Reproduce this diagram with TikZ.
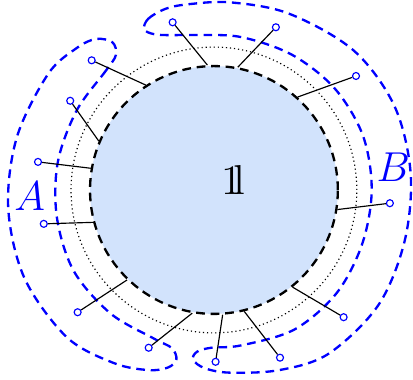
\documentclass[tikz,border=0pt]{standalone}
\usepackage{amsmath}
\usepackage{amssymb}
\usepackage{tikz}
\usetikzlibrary{positioning}

\definecolor{corefill}{RGB}{210,227,252}
\newcommand{\unitone}{\mathrm{1\kern-0.2em l}}
\tikzset{
  port/.style={circle, draw=blue, fill=white, inner sep=0pt, minimum size=2.4pt},
  region/.style={blue, thick, densely dashed},
  leg/.style={black}
}

\begin{document}
\begin{tikzpicture}
      \useasboundingbox (-2.59,-2.29) rectangle (2.41,2.30);
      % the two regions
      \draw[region] plot[smooth cycle, tension=0.55] coordinates {
        (126:2.02) (132:1.95) (150:1.92) (170:1.92) (190:1.93) (210:1.96)
        (230:1.95) (248:1.94) (255:1.98) (257.5:2.1) (255.5:2.22) (250:2.32)
        (240:2.42) (225:2.52) (205:2.53) (185:2.5) (165:2.47) (145:2.45)
        (134:2.39) (128:2.32) (124.5:2.17)};
      \draw[region] plot[smooth cycle, tension=0.55] coordinates {
        (113.5:2.12) (111:2.22) (105:2.27) (98:2.27) (85:2.28) (67:2.32)
        (45:2.39) (25:2.41) (5:2.39) (-15:2.39) (-35:2.43) (-55:2.42)
        (-70:2.32) (-85:2.22) (-93:2.16) (-97:2.07) (-96:1.97) (-91:1.91)
        (-80:1.91) (-60:1.95) (-40:1.94) (-20:1.91) (0:1.91) (20:1.92)
        (40:1.91) (60:1.89) (80:1.88) (97:1.89) (106:1.95) (111:2.02)};
      \node[blue, font=\Large] (lblA) at (-2.23,-0.08) {$A$};
      \node[blue, font=\Large] (lblB) at (2.17,0.27) {$B$};
      \draw[densely dotted] (0,0) circle (1.73);
      \node[circle, draw, thick, densely dashed, fill=corefill,
            minimum size=3cm, inner sep=0pt] (core) at (0,0) {};
      \node[font=\Large] (unit) at (0.23,0.12) {$\unitone$};
      % ports
      \node[port] (p1) at (-0.50,2.03) {};
      \node[port] (p2) at (0.75,1.97) {};
      \node[port] (p3) at (1.72,1.38) {};
      \node[port] (p4) at (2.13,-0.16) {};
      \node[port] (p5) at (1.57,-1.54) {};
      \node[port] (p6) at (0.80,-2.03) {};
      \node[port] (p7) at (0.02,-2.08) {};
      \node[port] (p8) at (-0.79,-1.91) {};
      \node[port] (p9) at (-1.65,-1.48) {};
      \node[port] (p10) at (-2.06,-0.41) {};
      \node[port] (p11) at (-2.13,0.34) {};
      \node[port] (p12) at (-1.74,1.08) {};
      \node[port] (p13) at (-1.48,1.57) {};
      \draw[leg] (core.93.7) -- (p1);
      \draw[leg] (core.79.9) -- (p2);
      \draw[leg] (core.48.9) -- (p3);
      \draw[leg] (core.-9.2) -- (p4);
      \draw[leg] (core.-51.5) -- (p5);
      \draw[leg] (core.-76.6) -- (p6);
      \draw[leg] (core.-86.3) -- (p7);
      \draw[leg] (core.260.8) -- (p8);
      \draw[leg] (core.226.3) -- (p9);
      \draw[leg] (core.195.4) -- (p10);
      \draw[leg] (core.170.7) -- (p11);
      \draw[leg] (core.157.3) -- (p12);
      \draw[leg] (core.123.4) -- (p13);
    \end{tikzpicture}
\end{document}
